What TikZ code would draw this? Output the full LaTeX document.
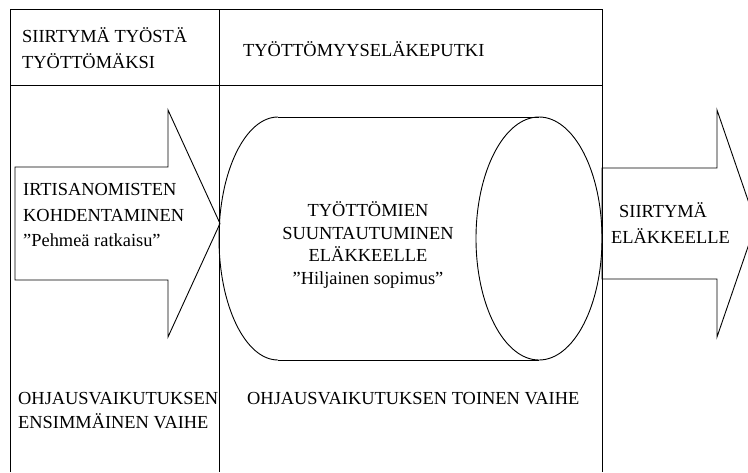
\documentclass[tikz,border=0pt]{standalone}
\usepackage{fontspec}
\setmainfont{Liberation Serif}

\begin{document}
\begin{tikzpicture}[
        x=1pt, y=-1pt,
        frame/.style={draw, line width=0.9pt},
        outline/.style={draw, line width=0.9pt, line join=miter},
        txt/.style={inner sep=0pt, align=left, font=\fontsize{18.4}{25.5}\selectfont},
        ctxt/.style={txt, align=center, font=\fontsize{18.4}{22.5}\selectfont}
    ]
    \useasboundingbox (0,0) rectangle (748,472);
    \clip (0,0) rectangle (748,472);

    % Frame and header
    \draw[frame] (10,472) -- (10,9) -- (602,9) -- (602,472);
    \draw[frame] (10,85) -- (602,85);
    \draw[frame] (219,9) -- (219,472);

    % Arrows
    \draw[outline] (15,167) -- (168,167) -- (168,110) -- (220,223.5) -- (168,337) -- (168,280) -- (15,280) -- cycle;
    \draw[outline] (602,168) -- (717,168) -- (717,110) -- (756,223.5) -- (717,337) -- (717,279) -- (602,279) -- cycle;

    % Pipe
    \draw[outline] (278,117) -- (539,117);
    \draw[outline] (278,360) -- (539,360);
    \draw[outline] (278,117) arc[start angle=270, end angle=90, x radius=59, y radius=121.5];
    \draw[outline] (539,238.5) ellipse[x radius=63, y radius=121.5];

    % Headers
    \node[txt, anchor=west] (siirtyma) at (22,48) {SIIRTYMÄ TYÖSTÄ\\TYÖTTÖMÄKSI};
    \node[txt, anchor=base west] (putki) at (243,56) {TYÖTTÖMYYSELÄKEPUTKI};

    % Texts in arrows and pipe
    \node[txt, anchor=west] (kohdentaminen) at (23,215) {IRTISANOMISTEN\\KOHDENTAMINEN\\”Pehmeä ratkaisu”};
    \node[ctxt] (suuntautuminen) at (368,245) {TYÖTTÖMIEN\\SUUNTAUTUMINEN\\ELÄKKEELLE\\”Hiljainen sopimus”};
    \node[txt, anchor=west] (elakkeelle) at (611,223) {\hspace*{8pt}SIIRTYMÄ\\ELÄKKEELLE};

    % Phases
    \node[txt, anchor=west, font=\fontsize{18.4}{24}\selectfont] (vaihe1) at (18,410.5) {OHJAUSVAIKUTUKSEN\\ENSIMMÄINEN VAIHE};
    \node[txt, anchor=base west] (vaihe2) at (247,404) {OHJAUSVAIKUTUKSEN TOINEN VAIHE};

\end{tikzpicture}
\end{document}
